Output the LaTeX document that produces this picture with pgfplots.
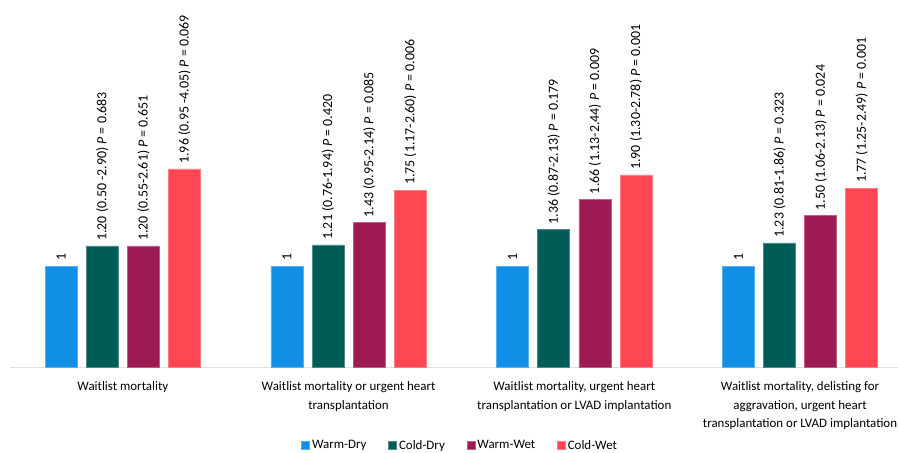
\documentclass[border=0pt]{standalone}
\usepackage{fontspec}
\setmainfont{Carlito}
\usepackage{pgfplots}
\pgfplotsset{compat=1.18}
\definecolor{warmdry}{RGB}{17,142,230}
\definecolor{colddry}{RGB}{0,92,87}
\definecolor{warmwet}{RGB}{158,26,82}
\definecolor{coldwet}{RGB}{255,70,82}
\begin{document}
\begin{tikzpicture}
\begin{axis}[
  width=889bp, height=368bp, scale only axis,
  xmin=-0.5, xmax=3.434, ymin=0, ymax=3.626,
  axis x line*=bottom, axis y line=none,
  x axis line style={draw=black!12, line width=0.8bp, -},
  ybar=9.2bp, bar width=32bp,
  xtick={0,1,2,3},
  xticklabels={
    {Waitlist mortality},
    {Waitlist mortality or urgent heart\\transplantation},
    {Waitlist mortality, urgent heart\\transplantation or LVAD implantation},
    {Waitlist mortality, delisting for\\aggravation, urgent heart\\transplantation or LVAD implantation}},
  major tick length=0pt,
  xticklabel style={align=center, anchor=north, inner sep=0pt, yshift=-14bp,
    font=\fontsize{13}{18.5}\selectfont, text=black},
  nodes near coords,
  point meta=explicit symbolic,
  every node near coord/.append style={rotate=90, anchor=west, inner sep=0pt,
    xshift=5bp, font=\fontsize{14}{16}\selectfont, text=black},
  legend columns=4,
  legend style={draw=none, fill=none, at={(0.507,-0.212)}, anchor=center,
    font=\fontsize{13}{15}\selectfont, text=black,
    /tikz/every even column/.append style={column sep=20bp}},
  legend image code/.code={\fill[#1] (0bp,-4bp) rectangle (8bp,4bp);},
]
\addplot[fill=warmdry, draw=warmdry!70!white, line width=0.6bp] coordinates {
  (0,1) [1] (1,1) [1] (2,1) [1] (3,1) [1]};
\addplot[fill=colddry, draw=colddry!70!white, line width=0.6bp] coordinates {
  (0,1.20) [{1.20 (0.50 -2.90) \textit{P} = 0.683}]
  (1,1.21) [{1.21 (0.76-1.94) \textit{P} = 0.420}]
  (2,1.36) [{1.36 (0.87-2.13) \textit{P} = 0.179}]
  (3,1.23) [{1.23 (0.81-1.86) \textit{P} = 0.323}]};
\addplot[fill=warmwet, draw=warmwet!70!white, line width=0.6bp] coordinates {
  (0,1.20) [{1.20 (0.55-2.61) \textit{P} = 0.651}]
  (1,1.43) [{1.43 (0.95-2.14) \textit{P} = 0.085}]
  (2,1.66) [{1.66 (1.13-2.44) \textit{P} = 0.009}]
  (3,1.50) [{1.50 (1.06-2.13) \textit{P} = 0.024}]};
\addplot[fill=coldwet, draw=coldwet!70!white, line width=0.6bp] coordinates {
  (0,1.96) [{1.96 (0.95 -4.05) \textit{P} = 0.069}]
  (1,1.75) [{1.75 (1.17-2.60) \textit{P} = 0.006}]
  (2,1.90) [{1.90 (1.30-2.78) \textit{P} = 0.001}]
  (3,1.77) [{1.77 (1.25-2.49) \textit{P} = 0.001}]};
\legend{Warm-Dry, Cold-Dry, Warm-Wet, Cold-Wet}
\end{axis}
\pgfresetboundingbox
\path ([xshift=-10bp]current axis.north west) rectangle ([yshift=-85bp]current axis.south east);
\end{tikzpicture}
\end{document}
